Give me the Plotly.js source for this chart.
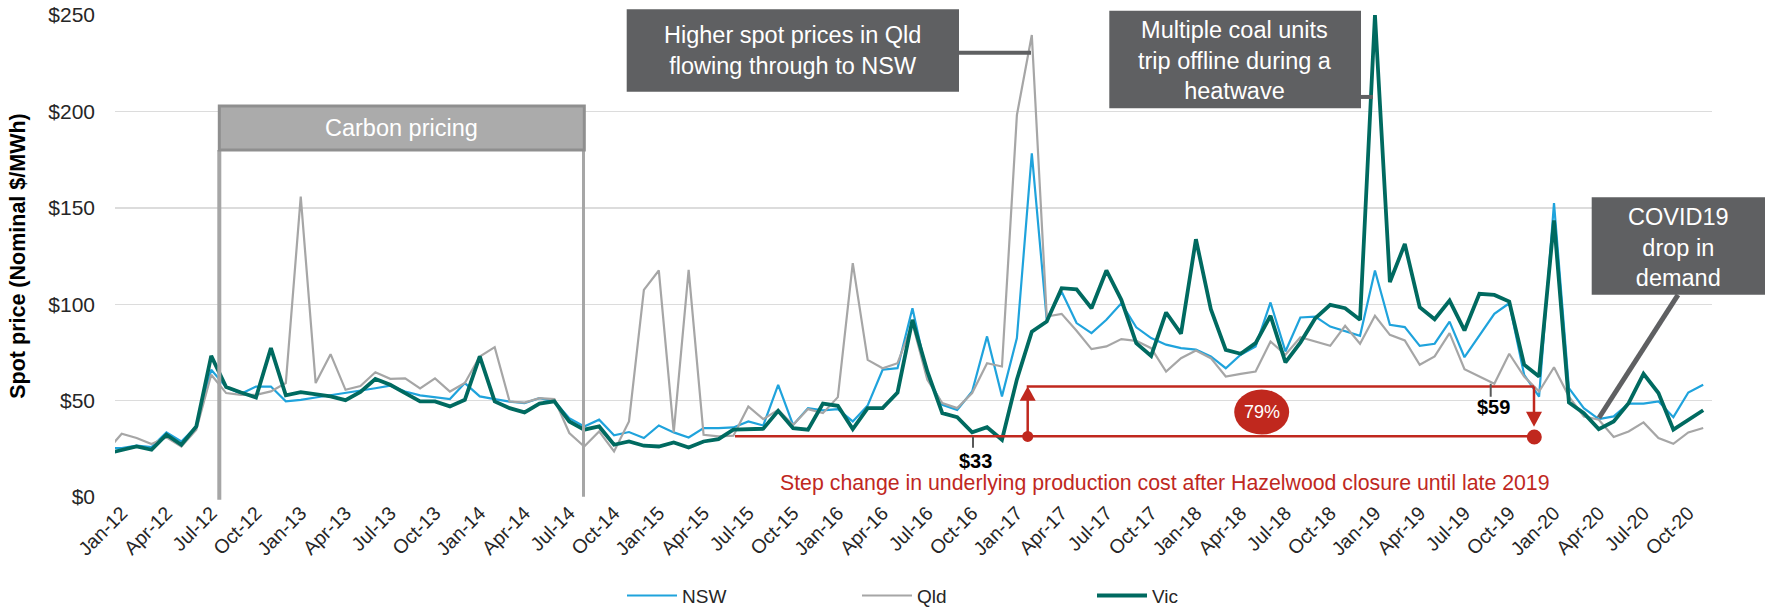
<!DOCTYPE html>
<html>
<head>
<meta charset="utf-8">
<script src="https://cdn.plot.ly/plotly-3.0.1.min.js"></script>
<style>html,body{margin:0;padding:0;background:#fff}#chart{width:1766px;height:607px}</style>
</head>
<body>
<div id="chart"></div>
<script>
// Month labels (Dec-11 is only partly visible at the left edge)
const months = ["Dec-11",
"Jan-12","Feb-12","Mar-12","Apr-12","May-12","Jun-12","Jul-12","Aug-12","Sep-12","Oct-12","Nov-12","Dec-12",
"Jan-13","Feb-13","Mar-13","Apr-13","May-13","Jun-13","Jul-13","Aug-13","Sep-13","Oct-13","Nov-13","Dec-13",
"Jan-14","Feb-14","Mar-14","Apr-14","May-14","Jun-14","Jul-14","Aug-14","Sep-14","Oct-14","Nov-14","Dec-14",
"Jan-15","Feb-15","Mar-15","Apr-15","May-15","Jun-15","Jul-15","Aug-15","Sep-15","Oct-15","Nov-15","Dec-15",
"Jan-16","Feb-16","Mar-16","Apr-16","May-16","Jun-16","Jul-16","Aug-16","Sep-16","Oct-16","Nov-16","Dec-16",
"Jan-17","Feb-17","Mar-17","Apr-17","May-17","Jun-17","Jul-17","Aug-17","Sep-17","Oct-17","Nov-17","Dec-17",
"Jan-18","Feb-18","Mar-18","Apr-18","May-18","Jun-18","Jul-18","Aug-18","Sep-18","Oct-18","Nov-18","Dec-18",
"Jan-19","Feb-19","Mar-19","Apr-19","May-19","Jun-19","Jul-19","Aug-19","Sep-19","Oct-19","Nov-19","Dec-19",
"Jan-20","Feb-20","Mar-20","Apr-20","May-20","Jun-20","Jul-20","Aug-20","Sep-20","Oct-20","Nov-20"];

const nsw = [25.4,
25.4,26.6,25.9,33.5,28.8,36.6,66.0,57.0,53.5,57.3,57.3,49.6,
50.4,51.6,52.7,53.9,55.0,56.4,57.7,54.7,52.7,51.8,50.8,59.1,
52.2,50.8,49.5,48.7,51.3,49.6,40.9,36.6,40.1,32.0,33.7,30.6,
37.1,33.5,30.9,35.7,35.7,36.1,39.2,37.1,58.2,37.4,46.1,44.9,
45.6,39.2,47.5,66.0,66.8,97.9,62.5,47.8,45.2,54.7,83.3,52.2,
82.4,178.3,92.0,106.5,90.2,85.0,91.9,100.5,88.0,82.4,79.0,77.2,
76.4,72.9,66.8,73.8,78.1,100.9,75.5,93.1,93.6,88.4,86.2,83.6,
117.5,89.3,88.1,78.4,79.5,91.0,72.5,84.1,95.0,100.5,63.4,52.1,
152.5,56.5,46.1,40.4,41.8,48.4,48.4,49.6,41.4,54.2,58.2];

const qld = [23.9,
32.8,30.6,27.5,31.0,26.2,34.9,63.4,53.9,53.0,53.0,54.8,59.1,
155.8,59.1,74.1,55.6,57.6,64.7,61.3,61.5,56.3,61.5,54.7,59.1,
72.9,77.7,49.5,49.0,51.3,50.8,33.2,26.2,34.0,23.6,39.2,107.4,
117.5,33.5,117.8,32.3,31.4,31.8,47.0,40.4,45.2,37.4,45.6,43.5,
51.8,121.3,71.1,66.8,69.4,90.0,60.8,48.7,46.1,53.9,69.4,67.7,
198.1,239.6,93.6,95.0,86.2,76.7,78.1,81.9,81.0,77.2,65.1,72.0,
76.0,72.0,62.5,63.9,65.1,80.6,73.8,82.9,80.6,78.4,88.8,79.5,
94.0,84.1,81.2,68.6,72.9,85.0,66.3,62.5,58.7,74.3,62.5,54.7,
67.3,52.1,41.8,40.1,31.1,34.0,38.7,30.6,27.6,33.5,35.8];

const vic = [22.5,
24.5,26.2,24.5,32.3,27.1,36.6,73.2,57.0,54.2,51.6,77.2,52.7,
54.4,53.5,52.2,50.2,54.5,61.2,58.2,53.9,49.6,49.6,47.0,50.4,
72.9,49.6,46.1,43.9,48.4,49.6,39.2,34.9,36.6,27.1,28.8,26.6,
26.2,28.3,25.7,28.8,30.0,34.9,35.2,35.4,44.7,35.7,34.9,48.4,
47.3,35.2,46.1,46.1,54.2,91.9,65.1,43.5,41.4,33.5,36.2,29.7,
61.0,85.8,91.0,108.3,107.7,97.9,117.5,102.3,79.8,73.2,95.7,84.7,
133.7,97.4,76.3,74.3,79.8,94.0,69.8,80.1,92.7,99.7,97.9,91.9,
250.0,111.5,131.2,98.4,92.2,101.9,86.4,105.4,104.8,101.4,68.6,62.5,
143.5,49.0,43.5,35.2,39.2,48.7,63.9,53.9,34.9,40.0,45.0];

const seriesNames = ["NSW", "Qld", "Vic"];
const yTicks = [0, 50, 100, 150, 200, 250];
const yTickLabels = ["$0", "$50", "$100", "$150", "$200", "$250"];

// x positions: month index, Jan-12 = 0
const xIdx = months.map((m, i) => i - 1);
const tickVals = xIdx.filter(v => v >= 0 && v % 3 === 0);
const tickText = tickVals.map(v => months[v + 1]);

// pixel -> paper helpers for annotation layout
const PL = 115, PR = 1712, PT = 15, PB = 497.3;
const PX = x => (x - PL) / (PR - PL);
const PY = y => (PB - y) / (PB - PT);

const RED = '#C0281E', BOX = '#5F6062', CARB = '#ABABAB';
const FONT = 'Liberation Sans, Arial, Helvetica, sans-serif';

function line(x0, y0, x1, y1, color, width) {
  return {type: 'line', xref: 'paper', yref: 'paper', x0: PX(x0), y0: PY(y0), x1: PX(x1), y1: PY(y1),
          line: {color: color, width: width}};
}
function rect(x0, y0, x1, y1, fill, lc, lw) {
  return {type: 'rect', xref: 'paper', yref: 'paper', x0: PX(x0), y0: PY(y0), x1: PX(x1), y1: PY(y1),
          fillcolor: fill, line: {color: lc || fill, width: lw || 0}};
}
function ell(cx, cy, rx, ry, fill) {
  return {type: 'circle', xref: 'paper', yref: 'paper', x0: PX(cx - rx), x1: PX(cx + rx), y0: PY(cy + ry), y1: PY(cy - ry),
          fillcolor: fill, line: {width: 0}};
}
function tri(pts, fill) {
  const p = pts.map((q, i) => (i ? 'L' : 'M') + PX(q[0]) + ',' + PY(q[1])).join(' ') + ' Z';
  return {type: 'path', xref: 'paper', yref: 'paper', path: p, fillcolor: fill, line: {width: 0}};
}
function txt(x, y, text, size, color, extra) {
  return Object.assign({xref: 'paper', yref: 'paper', x: PX(x), y: PY(y), text: text, showarrow: false,
    xanchor: 'center', yanchor: 'middle', font: {family: FONT, size: size, color: color}}, extra || {});
}

const traces = [
  {x: xIdx, y: nsw, name: seriesNames[0], type: 'scatter', mode: 'lines', line: {color: '#1FA3DC', width: 2.2}},
  {x: xIdx, y: qld, name: seriesNames[1], type: 'scatter', mode: 'lines', line: {color: '#A6A6A6', width: 2.2}},
  {x: xIdx, y: vic, name: seriesNames[2], type: 'scatter', mode: 'lines', line: {color: '#006A60', width: 3.8}}
];

const shapes = [
  // carbon pricing
  line(219.3, 150, 219.3, 500, '#A6A6A6', 4),
  line(583.5, 150, 583.5, 497, '#A6A6A6', 3),
  rect(219.3, 106, 584.3, 150, CARB, '#8F8F8F', 3),
  // callout boxes
  rect(626.7, 9.3, 959, 91.7, BOX),
  line(959, 52.7, 1031, 52.7, BOX, 4),
  rect(1109.3, 10.7, 1361, 108.3, BOX),
  line(1361, 97, 1373, 97, BOX, 4),
  rect(1591.7, 197.3, 1765, 295, BOX),
  line(1678, 295, 1599, 418, BOX, 5),
  // red step-change graphic
  line(735, 436.5, 1534, 436.5, RED, 2.5),
  line(1026.7, 386.7, 1534, 386.7, RED, 2.5),
  line(1027.7, 436.7, 1027.7, 399, RED, 2.5),
  tri([[1019.7, 401], [1035.7, 401], [1027.7, 386.5]], RED),
  line(1534, 386.7, 1534, 414, RED, 2.5),
  tri([[1526, 412], [1542, 412], [1534, 427]], RED),
  ell(1027.7, 436.7, 5.5, 5.5, RED),
  ell(1534.3, 437.3, 7.5, 7.5, RED),
  ell(1261.7, 412.3, 27.5, 22.5, RED),
  line(973, 437, 973, 448, '#595959', 2),
  line(1490.7, 384, 1490.7, 397, '#595959', 2)
];

const annotations = [
  txt(401.8, 128, 'Carbon pricing', 23.5, '#FFFFFF'),
  txt(792.9, 51, 'Higher spot prices in Qld<br>flowing through to NSW', 23.5, '#FFFFFF'),
  txt(1235, 60.5, 'Multiple coal units<br>trip offline during a<br>heatwave', 23.5, '#FFFFFF'),
  txt(1678, 247.5, 'COVID19<br>drop in<br>demand', 23.5, '#FFFFFF'),
  txt(1261.7, 412.3, '79%', 18, '#FFFFFF'),
  txt(975, 461.7, '<b>$33</b>', 20, '#000000'),
  txt(1493.3, 407.7, '<b>$59</b>', 20, '#000000'),
  txt(1164.6, 483.3, 'Step change in underlying production cost after Hazelwood closure until late 2019', 21.3, RED)
];

const layout = {
  width: 1766, height: 607,
  margin: {l: PL, r: 1766 - PR, t: PT, b: 607 - PB, pad: 0, autoexpand: false},
  paper_bgcolor: '#FFFFFF', plot_bgcolor: '#FFFFFF',
  font: {family: FONT, color: '#262626'},
  showlegend: true,
  legend: {orientation: 'h', x: PX(622), xanchor: 'left', y: PY(596), yanchor: 'middle',
           font: {family: FONT, size: 19, color: '#262626'}, itemwidth: 50,
           entrywidth: 170, entrywidthmode: 'pixels',
           bgcolor: 'rgba(0,0,0,0)', traceorder: 'normal'},
  xaxis: {range: [-0.449, 106.59], tickmode: 'array', tickvals: tickVals, ticktext: tickText,
          tickangle: -45, tickfont: {family: FONT, size: 19.5, color: '#262626'},
          showgrid: false, zeroline: false, showline: false, ticks: '', automargin: false, fixedrange: true},
  yaxis: {range: [0, 250], tickmode: 'array', tickvals: yTicks, ticktext: yTickLabels,
          tickfont: {family: FONT, size: 21, color: '#262626'},
          showgrid: true, gridcolor: '#DCDCDC', gridwidth: 1.4, zeroline: false, showline: false, ticks: '',
          ticklabelstandoff: 19, automargin: false,
          title: {text: '<b>Spot price (Nominal $/MWh)</b>', font: {family: FONT, size: 21.5, color: '#000000'}, standoff: 16}},
  shapes: shapes,
  annotations: annotations
};

Plotly.newPlot('chart', traces, layout, {displayModeBar: false, staticPlot: true});
</script>
</body>
</html>
